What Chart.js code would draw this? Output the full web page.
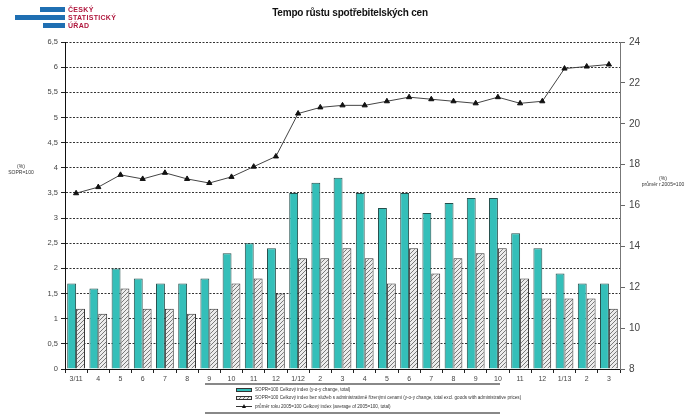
<!DOCTYPE html>
<html>
<head>
<meta charset="utf-8">
<script src="https://cdn.jsdelivr.net/npm/chart.js@4"></script>
<style>
  body { margin: 0; background: #fff; font-family: "Liberation Sans", Arial, sans-serif; }
  #wrap { position: relative; width: 688px; height: 419px; }
  canvas { position: absolute; left: 0; top: 0; }
  .abs { position: absolute; white-space: nowrap; }
  .logo-bar { position: absolute; background: #1f6fb2; }
  .logo-txt { position: absolute; left: 68px; color: #b0173d; font-weight: bold; font-size: 7px; line-height: 8px; letter-spacing: 0.3px; }
  #title { left: 0; width: 700px; top: 7px; text-align: center; font-size: 10px; font-weight: bold; color: #111; letter-spacing: -0.2px; }
  .axt { font-size: 5px; color: #333; text-align: center; line-height: 6px; }
  #legend { left: 205px; top: 383px; width: 295px; height: 27px; border-top: 2px solid #888; border-bottom: 2px solid #888; }
  .lrow { position: absolute; left: 31px; font-size: 4.6px; color: #333; height: 8px; line-height: 8px; }
  .sw { display: inline-block; width: 16px; height: 4px; vertical-align: middle; margin-right: 3px; border: 1px solid #333; box-sizing: border-box; }
</style>
</head>
<body>
<div id="wrap">
  <canvas id="grafica" width="688" height="419"></canvas>

  <div class="logo-bar" style="left:40px;top:7px;width:25px;height:5px"></div>
  <div class="logo-bar" style="left:15px;top:15px;width:50px;height:5px"></div>
  <div class="logo-bar" style="left:43px;top:23px;width:22px;height:5px"></div>
  <div class="logo-txt" style="top:6px">ČESKÝ</div>
  <div class="logo-txt" style="top:14px">STATISTICKÝ</div>
  <div class="logo-txt" style="top:22px">ÚŘAD</div>

  <div id="title" class="abs">Tempo růstu spotřebitelských cen</div>

  <div class="abs axt" style="left:5px;top:163px;width:32px">(%)<br>SOPR=100</div>
  <div class="abs axt" style="left:640px;top:175px;width:46px">(%)<br>průměr r.2005=100</div>

  <div id="legend" class="abs">
    <div class="lrow" style="top:1px"><span class="sw" style="background:#34bfb9"></span>SOPR=100 Celkový index (y-o-y change, total)</div>
    <div class="lrow" style="top:9px"><span class="sw" id="swHatch"></span>SOPR=100 Celkový index bez služeb s administrativně řízenými cenami (y-o-y change, total excl. goods with administrative prices)</div>
    <div class="lrow" style="top:18px"><span style="display:inline-block;width:16px;height:1px;background:#333;vertical-align:middle;margin-right:3px;position:relative"><span style="position:absolute;left:6px;top:-2px;width:0;height:0;border-left:2px solid transparent;border-right:2px solid transparent;border-bottom:4px solid #111"></span></span>průměr roku 2005=100 Celkový index (average of 2005=100, total)</div>
  </div>
</div>

<script>
// ---------------- data ----------------
const kategorie = ["3/11", "4", "5", "6", "7", "8", "9", "10", "11", "12",
                   "1/12", "2", "3", "4", "5", "6", "7", "8", "9", "10", "11", "12",
                   "1/13", "2", "3"];

// SOPR=100 celkový index (levá osa)
const celkem = [1.7, 1.6, 2.0, 1.8, 1.7, 1.7, 1.8, 2.3, 2.5, 2.4,
                3.5, 3.7, 3.8, 3.5, 3.2, 3.5, 3.1, 3.3, 3.4, 3.4, 2.7, 2.4,
                1.9, 1.7, 1.7];

// bez administrativních cen (levá osa)
const bezAdmin = [1.2, 1.1, 1.6, 1.2, 1.2, 1.1, 1.2, 1.7, 1.8, 1.5,
                  2.2, 2.2, 2.4, 2.2, 1.7, 2.4, 1.9, 2.2, 2.3, 2.4, 1.8, 1.4,
                  1.4, 1.4, 1.2];

// průměr roku 2005=100 (pravá osa)
const prumer2005 = [16.6, 16.9, 17.5, 17.3, 17.6, 17.3, 17.1, 17.4, 17.9, 18.4,
                    20.5, 20.8, 20.9, 20.9, 21.1, 21.3, 21.2, 21.1, 21.0, 21.3, 21.0, 21.1,
                    22.7, 22.8, 22.9];

const leveTicky = ["0", "0,5", "1", "1,5", "2", "2,5", "3", "3,5", "4", "4,5", "5", "5,5", "6", "6,5"];

// ---------------- šrafování ----------------
function vzorSrafy() {
    const c = document.createElement("canvas");
    c.width = 4; c.height = 4;
    const g = c.getContext("2d");
    g.fillStyle = "#ececec";
    g.fillRect(0, 0, 4, 4);
    g.strokeStyle = "#7a7a7a";
    g.lineWidth = 1;
    g.beginPath();
    g.moveTo(0, 4); g.lineTo(4, 0);
    g.moveTo(-1, 1); g.lineTo(1, -1);
    g.moveTo(3, 5); g.lineTo(5, 3);
    g.stroke();
    return c;
}
const srafa = vzorSrafy();
const ctx = document.getElementById("grafica").getContext("2d");
const pattern = ctx.createPattern(srafa, "repeat");
document.getElementById("swHatch").style.background = "url(" + srafa.toDataURL() + ")";

const font = "'Liberation Sans', Arial, sans-serif";

new Chart(ctx, {
    data: {
        labels: kategorie,
        datasets: [
            {
                type: "line",
                data: prumer2005,
                yAxisID: "y2",
                borderColor: "#444",
                borderWidth: 1,
                pointStyle: "triangle",
                pointRadius: 3,
                pointBackgroundColor: "#111",
                pointBorderColor: "#111",
                pointBorderWidth: 1,
                tension: 0,
                order: 0
            },
            {
                type: "bar",
                data: celkem,
                yAxisID: "y",
                backgroundColor: "#34bfb9",
                borderColor: "#244f4c",
                borderWidth: 1,
                categoryPercentage: 0.8,
                barPercentage: 1.0,
                order: 1
            },
            {
                type: "bar",
                data: bezAdmin,
                yAxisID: "y",
                backgroundColor: pattern,
                borderColor: "#333",
                borderWidth: 1,
                categoryPercentage: 0.8,
                barPercentage: 1.0,
                order: 2
            }
        ]
    },
    options: {
        responsive: false,
        animation: false,
        layout: { padding: { top: 42, bottom: 34, left: 0, right: 0 } },
        plugins: { legend: { display: false }, tooltip: { enabled: false } },
        scales: {
            x: {
                offset: true,
                afterFit: s => { s.height = 16; },
                grid: { drawOnChartArea: false, offset: true, tickLength: 4, color: "#222" },
                border: { color: "#111", width: 1 },
                ticks: { color: "#444", font: { family: font, size: 7 }, padding: 2, maxRotation: 0, autoSkip: false }
            },
            y: {
                position: "left",
                min: 0,
                max: 6.5,
                afterFit: s => { s.width = 65; },
                afterBuildTicks: s => {
                    s.ticks = leveTicky.map((t, i) => ({ value: i * 0.5 }));
                },
                grid: { color: "#333", lineWidth: 1, tickLength: 4, tickColor: "#222" },
                border: { color: "#111", width: 1, dash: [2, 1.5] },
                ticks: {
                    color: "#444",
                    font: { family: font, size: 7.5 },
                    padding: 3,
                    callback: (v, i) => leveTicky[i]
                }
            },
            y2: {
                position: "right",
                min: 8,
                max: 24,
                afterFit: s => { s.width = 68; },
                grid: { drawOnChartArea: false, tickLength: 5, color: "#666" },
                border: { color: "#777", width: 1 },
                ticks: { stepSize: 2, color: "#444", font: { family: font, size: 10 }, padding: 4 }
            }
        }
    }
});
</script>
</body>
</html>
